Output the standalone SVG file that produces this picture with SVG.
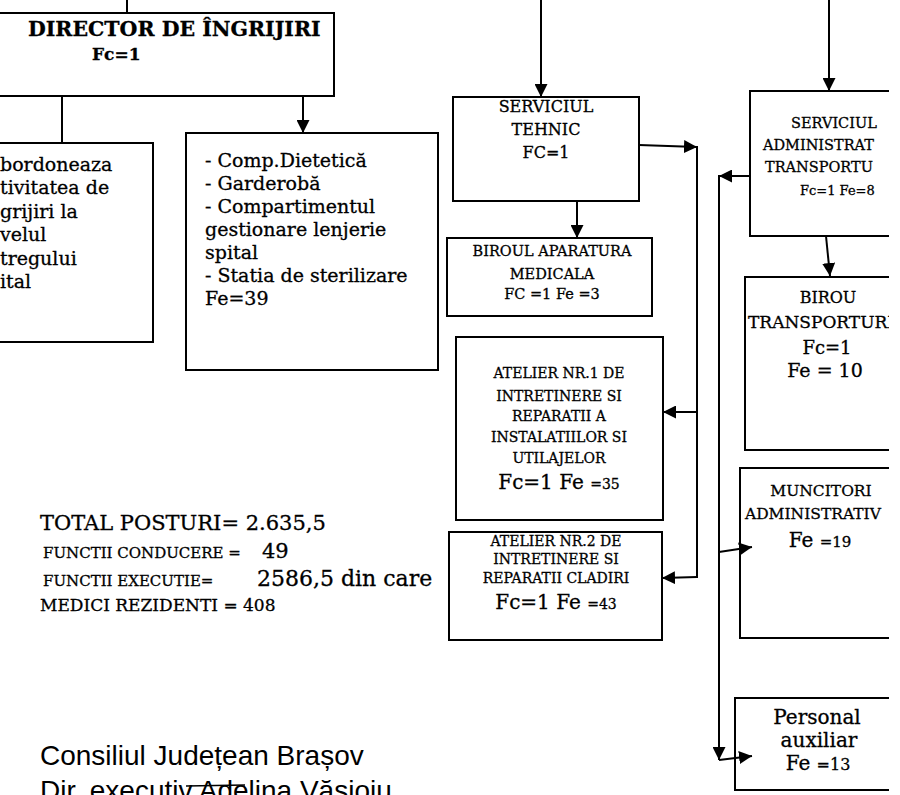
<svg xmlns="http://www.w3.org/2000/svg" width="900" height="795" viewBox="0 0 900 795">
<defs>
<style>
.box{fill:none;stroke:#000;stroke-width:2}
.ln{fill:none;stroke:#000;stroke-width:2}
.s{font-family:"DejaVu Serif","Liberation Serif",serif;fill:#000;stroke:#000;stroke-width:0.3}
.b{font-weight:bold}
.c{text-anchor:middle}
.a{font-family:"Liberation Sans",Arial,sans-serif;fill:#000}
</style>
<marker id="ah" viewBox="0 0 12 12" refX="12" refY="6" markerWidth="13" markerHeight="13" markerUnits="userSpaceOnUse" orient="auto">
<path d="M0,0 L12,6 L0,12 Z" fill="#000"/>
</marker>
<clipPath id="cr"><rect x="0" y="0" width="889" height="795"/></clipPath>
</defs>
<rect width="900" height="795" fill="#fff"/>

<g id="connectors">
<line class="ln" x1="127" y1="0" x2="127" y2="13"/>
<line class="ln" x1="541" y1="0" x2="541" y2="97" marker-end="url(#ah)"/>
<line class="ln" x1="829" y1="0" x2="829" y2="91" marker-end="url(#ah)"/>
<line class="ln" x1="62" y1="96" x2="62" y2="143"/>
<line class="ln" x1="303" y1="96" x2="303" y2="133" marker-end="url(#ah)"/>
<line class="ln" x1="577" y1="201" x2="577" y2="238" marker-end="url(#ah)"/>
<line class="ln" x1="639" y1="145" x2="697" y2="147" marker-end="url(#ah)"/>
<line class="ln" x1="697" y1="146" x2="697" y2="578"/>
<line class="ln" x1="697" y1="412" x2="663" y2="412" marker-end="url(#ah)"/>
<line class="ln" x1="697" y1="577" x2="662" y2="578" marker-end="url(#ah)"/>
<line class="ln" x1="750" y1="176" x2="719" y2="176" marker-end="url(#ah)"/>
<line class="ln" x1="719" y1="175" x2="719" y2="760" marker-end="url(#ah)"/>
<line class="ln" x1="719" y1="552" x2="752" y2="547" marker-end="url(#ah)"/>
<line class="ln" x1="719" y1="760" x2="752" y2="756" marker-end="url(#ah)"/>
<line class="ln" x1="826" y1="236" x2="830" y2="276" marker-end="url(#ah)"/>
</g>

<g id="director">
<rect class="box" x="-5" y="13" width="339" height="83"/>
<text class="s b" x="28" y="36" font-size="20.5">DIRECTOR DE ÎNGRIJIRI</text>
<text class="s b" x="92" y="60" font-size="17">Fc=1</text>
</g>

<g id="coordoneaza">
<rect class="box" x="-5" y="143" width="158" height="199"/>
<g class="s" font-size="19">
<text x="0" y="171">bordoneaza</text>
<text x="0" y="194.4">tivitatea de</text>
<text x="0" y="217.8">grijiri la</text>
<text x="0" y="241.2">velul</text>
<text x="0" y="264.6">tregului</text>
<text x="0" y="288">ital</text>
</g>
</g>

<g id="compartimente">
<rect class="box" x="186" y="133" width="252" height="237"/>
<g class="s" font-size="19">
<text x="205" y="167">- Comp.Dietetică</text>
<text x="205" y="190">- Garderobă</text>
<text x="205" y="213">- Compartimentul</text>
<text x="205" y="236">gestionare lenjerie</text>
<text x="205" y="259">spital</text>
<text x="205" y="282">- Statia de sterilizare</text>
<text x="205" y="305">Fe=39</text>
</g>
</g>

<g id="serviciul-tehnic">
<rect class="box" x="453" y="97" width="186" height="104"/>
<g class="s c" font-size="16">
<text x="546" y="112">SERVICIUL</text>
<text x="546" y="135">TEHNIC</text>
<text x="546" y="158">FC=1</text>
</g>
</g>

<g id="birou-aparatura">
<rect class="box" x="447" y="238" width="205" height="78"/>
<g class="s c" font-size="14.5">
<text x="552" y="256">BIROUL APARATURA</text>
<text x="552" y="279">MEDICALA</text>
<text x="552" y="299">FC =1 Fe =3</text>
</g>
</g>

<g id="atelier-1">
<rect class="box" x="456" y="337" width="207" height="183"/>
<g class="s c" font-size="14">
<text x="559" y="378">ATELIER NR.1 DE</text>
<text x="559" y="401">INTRETINERE SI</text>
<text x="559" y="421">REPARATII A</text>
<text x="559" y="442">INSTALATIILOR SI</text>
<text x="559" y="463">UTILAJELOR</text>
<text x="559" y="489" font-size="20">Fc=1 Fe <tspan font-size="14">=35</tspan></text>
</g>
</g>

<g id="atelier-2">
<rect class="box" x="449" y="532" width="213" height="108"/>
<g class="s c" font-size="14">
<text x="556" y="546">ATELIER NR.2 DE</text>
<text x="556" y="564">INTRETINERE SI</text>
<text x="556" y="583">REPARATII CLADIRI</text>
<text x="556" y="609" font-size="20">Fc=1 Fe <tspan font-size="14">=43</tspan></text>
</g>
</g>

<g id="serviciul-administrativ" clip-path="url(#cr)">
<path class="box" d="M889,91 H750 V236 H889"/>
<g class="s" font-size="14.5">
<text x="791" y="128">SERVICIUL</text>
<text x="763" y="150">ADMINISTRAT</text>
<text x="765" y="172">TRANSPORTU</text>
<text x="800" y="195" font-size="13">Fc=1 Fe=8</text>
</g>
</g>

<g id="birou-transporturi" clip-path="url(#cr)">
<path class="box" d="M889,277 H745 V450 H889"/>
<g class="s" font-size="16">
<text x="828" y="303" class="c">BIROU</text>
<text x="748" y="328" font-size="17">TRANSPORTURI</text>
<text x="827" y="354" class="c" font-size="18">Fc=1</text>
<text x="825" y="377" class="c" font-size="19">Fe = 10</text>
</g>
</g>

<g id="muncitori-administrativi" clip-path="url(#cr)">
<path class="box" d="M889,468 H740 V638 H889"/>
<g class="s" font-size="15.5">
<text x="821" y="496" class="c">MUNCITORI</text>
<text x="745" y="519">ADMINISTRATIV</text>
<text x="820" y="547" class="c" font-size="20">Fe <tspan font-size="15">=19</tspan></text>
</g>
</g>

<g id="personal-auxiliar" clip-path="url(#cr)">
<path class="box" d="M889,698 H735 V790 H889"/>
<g class="s c" font-size="20">
<text x="817" y="724">Personal</text>
<text x="819" y="747">auxiliar</text>
<text x="818" y="770">Fe <tspan font-size="16">=13</tspan></text>
</g>
</g>

<g id="totaluri" class="s">
<text x="40" y="530" font-size="21">TOTAL POSTURI= 2.635,5</text>
<text x="43" y="558" font-size="15">FUNCTII CONDUCERE =<tspan x="262" font-size="21">49</tspan></text>
<text x="43" y="586" font-size="15">FUNCTII EXECUTIE=<tspan x="257" font-size="22">2586,5 din care</tspan></text>
<text x="40" y="611" font-size="17">MEDICI REZIDENTI = 408</text>
</g>

<g id="semnatura">
<text class="a" x="40" y="765" font-size="28">Consiliul Județean Brașov</text>
<text class="a" x="40" y="800" font-size="28">Dir. executiv Adelina Văsioiu</text>
<line x1="186" y1="786" x2="245" y2="785" stroke="#000" stroke-width="1.5"/>
</g>
</svg>
